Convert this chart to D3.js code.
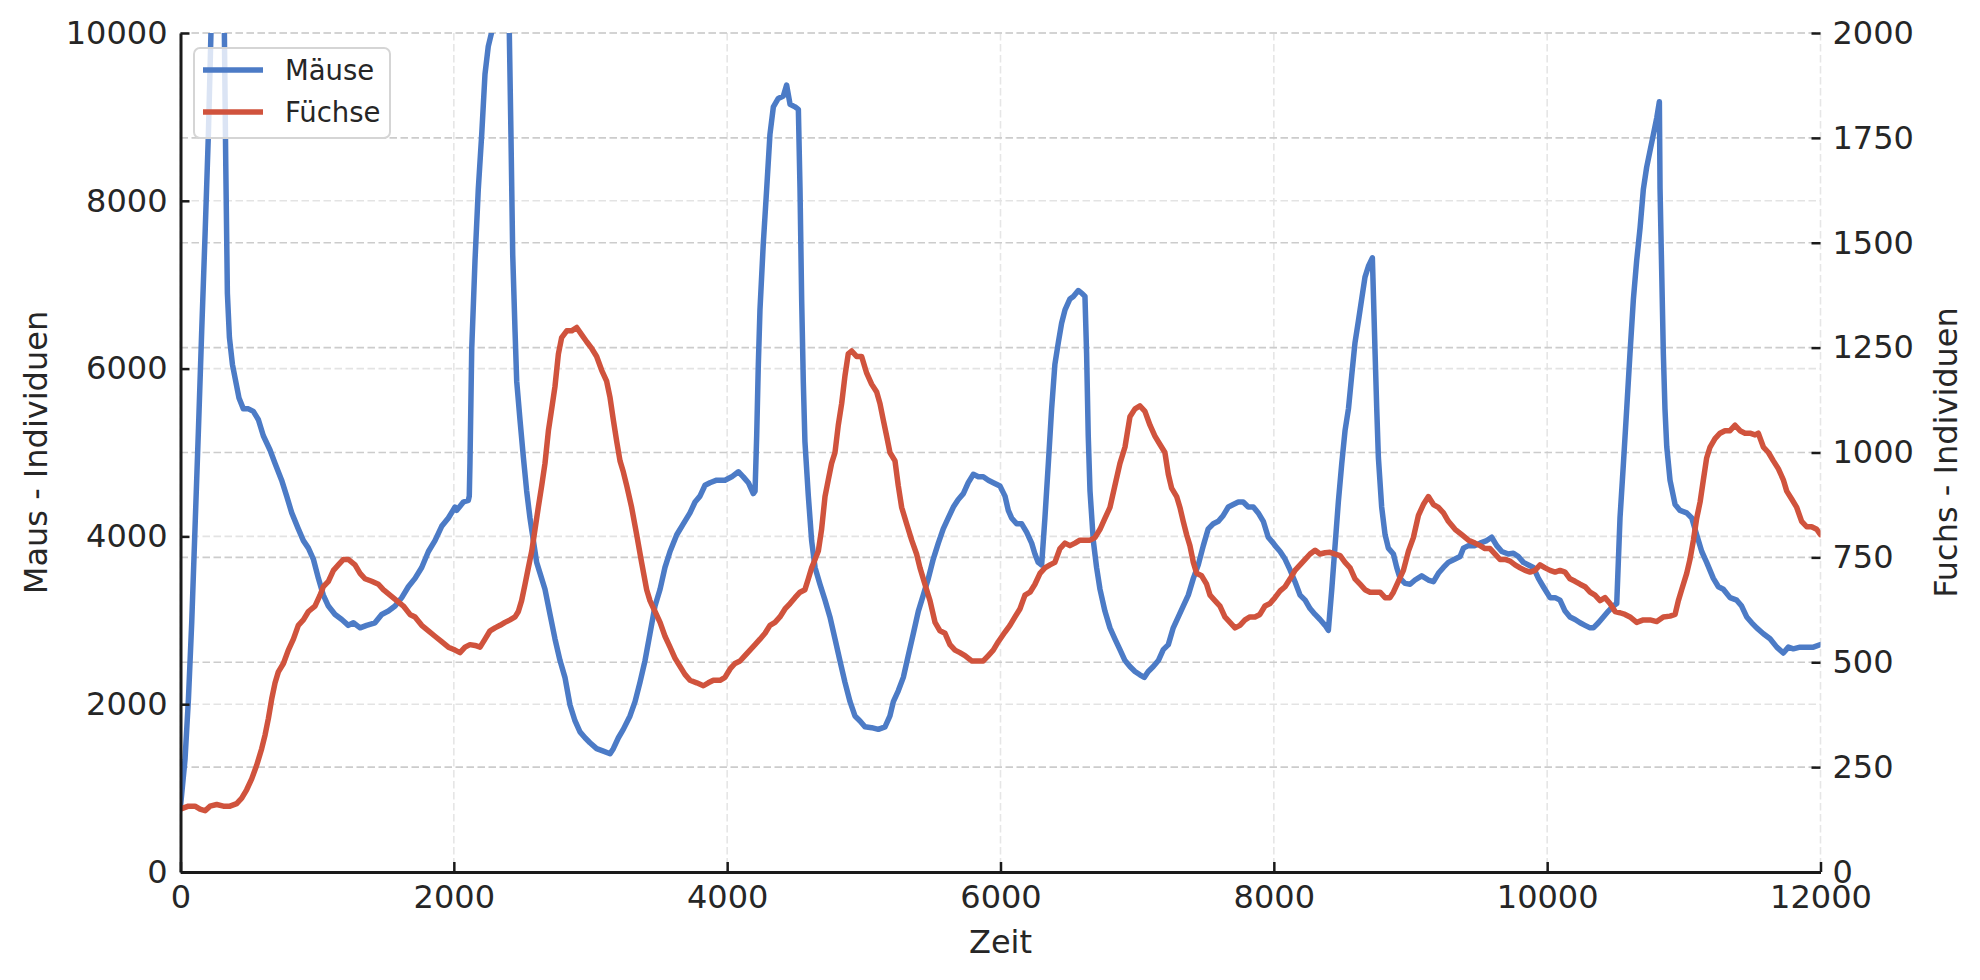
<!DOCTYPE html>
<html>
<head>
<meta charset="utf-8">
<script src="https://cdn.jsdelivr.net/npm/d3@7"></script>
<style>
body { margin: 0; background: #fff; }
text { font-family: "DejaVu Sans", sans-serif; fill: #262626; }
</style>
</head>
<body>
<svg id="chart" width="1980" height="980"></svg>
<script>
// ---- data ----
const mausZeit = [0,33,58,82,106,131,155,180,204,223,260,290,321,331,343,358,380,404,428,460,497,533,570,606,655,692,740,777,814,862,899,936,972,1009,1045,1082,1131,1180,1228,1265,1314,1362,1423,1472,1521,1570,1619,1667,1716,1765,1814,1862,1911,1960,2009,2021,2070,2106,2113,2118,2131,2155,2179,2204,2228,2252,2277,2330,2375,2406,2418,2431,2448,2460,2484,2509,2533,2557,2582,2606,2631,2667,2704,2740,2777,2813,2850,2887,2923,2960,2996,3045,3094,3143,3167,3204,3240,3289,3326,3362,3399,3435,3472,3509,3545,3582,3631,3679,3728,3765,3801,3838,3874,3923,3984,4033,4082,4118,4155,4191,4204,4216,4228,4240,4264,4289,4313,4338,4374,4411,4435,4460,4496,4521,4533,4545,4557,4569,4594,4618,4643,4679,4716,4752,4789,4825,4862,4899,4935,4972,5008,5057,5106,5155,5191,5216,5252,5289,5325,5362,5399,5435,5472,5508,5545,5581,5618,5655,5691,5728,5764,5801,5838,5874,5911,5947,5996,6033,6057,6081,6118,6155,6191,6228,6252,6276,6301,6325,6350,6374,6398,6423,6447,6472,6508,6533,6569,6594,6618,6630,6642,6655,6679,6703,6728,6764,6801,6837,6874,6911,6947,6984,7020,7052,7081,7118,7155,7191,7228,7264,7301,7337,7374,7411,7447,7484,7520,7557,7594,7630,7667,7703,7740,7776,7813,7850,7886,7923,7959,7996,8009,8046,8082,8119,8155,8192,8229,8265,8302,8338,8375,8399,8424,8448,8472,8497,8521,8546,8570,8594,8619,8643,8667,8692,8721,8741,8753,8765,8789,8814,8838,8875,8899,8924,8960,8997,9033,9082,9131,9168,9204,9241,9277,9326,9363,9387,9424,9472,9509,9558,9594,9631,9668,9716,9753,9789,9826,9863,9899,9936,9972,10021,10058,10094,10131,10167,10204,10241,10277,10314,10338,10375,10411,10448,10484,10509,10533,10558,10582,10606,10631,10655,10680,10704,10728,10753,10777,10802,10821,10826,10838,10850,10862,10875,10899,10936,10972,11021,11058,11094,11131,11167,11216,11253,11289,11338,11387,11423,11460,11497,11533,11582,11631,11680,11728,11765,11801,11850,11899,11948,12000];
const mausAnzahl = [780,1340,2060,2970,4090,5260,6440,7610,8790,10010,12300,12200,10010,8460,6900,6370,6050,5850,5650,5520,5520,5490,5390,5200,5030,4870,4670,4480,4280,4090,3950,3860,3730,3500,3300,3170,3070,3010,2940,2970,2910,2940,2970,3070,3110,3170,3270,3400,3500,3630,3820,3950,4120,4220,4350,4310,4410,4430,4480,4870,6240,7290,8140,8790,9510,9840,10010,11600,11800,10000,8790,7350,6440,5850,5390,4940,4540,4220,3950,3690,3560,3370,3070,2780,2520,2320,1990,1800,1670,1600,1540,1470,1440,1410,1470,1600,1700,1860,2030,2260,2520,2840,3170,3370,3630,3820,4020,4150,4280,4410,4480,4610,4640,4670,4670,4710,4770,4710,4640,4510,4540,5200,6050,6700,7480,8140,8790,9120,9220,9250,9380,9150,9120,9090,8140,6830,5850,5130,4480,3950,3630,3430,3240,3040,2780,2520,2260,2030,1860,1800,1730,1720,1700,1730,1860,2030,2160,2320,2580,2840,3110,3300,3500,3730,3920,4090,4220,4350,4440,4510,4640,4740,4710,4710,4670,4640,4600,4480,4310,4220,4150,4150,4050,3920,3790,3690,3660,4220,4870,5520,6050,6310,6540,6700,6830,6860,6930,6900,6860,6180,5200,4540,3950,3630,3370,3110,2910,2780,2650,2520,2450,2390,2350,2320,2390,2450,2520,2650,2710,2910,3040,3170,3300,3500,3660,3890,4090,4150,4180,4250,4350,4380,4410,4410,4350,4350,4280,4180,3990,3920,3890,3820,3730,3600,3460,3300,3240,3140,3070,3010,2940,2880,3370,3890,4410,4870,5260,5520,5920,6310,6570,6830,7090,7220,7320,6180,5520,4940,4350,4020,3860,3790,3630,3500,3440,3430,3480,3530,3480,3460,3560,3630,3690,3730,3760,3860,3890,3890,3920,3950,3990,3890,3820,3790,3800,3760,3690,3660,3630,3500,3400,3270,3270,3240,3110,3040,3010,2970,2940,2910,2910,2970,3040,3110,3170,3200,4220,4870,5520,6180,6830,7290,7680,8140,8400,8600,8790,8990,9180,8140,7160,6180,5520,5070,4670,4380,4310,4280,4220,4020,3820,3690,3500,3400,3370,3270,3240,3170,3040,2970,2910,2840,2780,2680,2610,2680,2660,2680,2680,2680,2710];

const fuchsZeit = [0,58,106,143,180,216,265,314,362,411,448,484,521,558,594,619,643,667,692,716,753,789,826,862,899,936,984,1021,1045,1082,1119,1155,1192,1228,1277,1314,1350,1399,1448,1484,1533,1582,1631,1679,1716,1765,1814,1862,1911,1960,2009,2045,2082,2118,2155,2192,2228,2265,2301,2338,2374,2411,2448,2472,2496,2521,2545,2570,2594,2618,2643,2667,2692,2716,2740,2765,2789,2826,2862,2899,2935,2972,3009,3045,3082,3118,3143,3167,3192,3216,3240,3265,3301,3338,3374,3411,3435,3472,3509,3545,3582,3618,3655,3691,3728,3777,3826,3862,3899,3948,3984,4021,4057,4094,4130,4167,4204,4240,4277,4313,4350,4386,4423,4460,4496,4533,4569,4594,4618,4643,4667,4691,4716,4740,4764,4789,4813,4838,4862,4886,4911,4947,4984,5021,5057,5094,5118,5142,5167,5191,5228,5252,5277,5313,5350,5386,5411,5447,5484,5521,5557,5594,5630,5667,5703,5740,5789,5838,5874,5911,5947,5984,6033,6069,6106,6142,6179,6216,6252,6289,6325,6362,6398,6435,6472,6508,6545,6581,6618,6655,6691,6728,6764,6801,6837,6874,6911,6947,6984,7020,7057,7094,7130,7167,7203,7228,7252,7289,7313,7337,7362,7386,7411,7435,7472,7508,7533,7569,7606,7642,7679,7716,7752,7789,7825,7862,7898,7935,7972,8008,8046,8082,8119,8155,8192,8229,8265,8302,8338,8375,8411,8448,8485,8521,8558,8594,8631,8667,8704,8741,8777,8814,8850,8875,8911,8948,8985,9021,9058,9094,9131,9168,9204,9241,9277,9326,9375,9424,9472,9509,9545,9582,9619,9655,9692,9729,9765,9802,9838,9875,9911,9948,9985,10021,10058,10094,10131,10167,10204,10241,10277,10314,10350,10387,10423,10460,10497,10533,10570,10606,10655,10704,10753,10802,10850,10899,10936,10960,10984,11021,11045,11070,11094,11119,11143,11167,11192,11228,11265,11301,11338,11375,11411,11448,11484,11521,11545,11582,11619,11655,11692,11728,11753,11789,11826,11862,11899,11935,11972,12000];
const fuchsAnzahl = [150,157,157,150,146,157,161,157,157,163,176,196,222,255,294,327,366,412,451,477,497,529,555,588,601,621,634,660,680,693,719,732,745,745,732,712,699,693,686,673,660,647,634,614,608,588,575,562,549,536,529,523,536,542,540,536,555,575,582,588,595,601,608,621,647,686,725,765,817,869,921,974,1052,1104,1157,1235,1274,1290,1290,1298,1281,1264,1248,1229,1196,1170,1131,1078,1026,980,954,921,869,804,738,673,647,621,595,562,536,510,490,471,457,451,444,451,457,457,464,484,497,503,516,529,542,555,569,588,595,608,627,640,654,667,673,699,725,745,765,817,895,935,974,1000,1065,1117,1183,1235,1242,1229,1229,1189,1163,1144,1117,1078,1039,1000,980,921,869,830,791,758,725,686,647,595,575,569,542,529,523,516,503,503,503,516,529,549,572,588,608,627,660,667,686,712,725,732,738,771,784,778,784,791,791,791,797,817,843,869,921,974,1013,1085,1104,1111,1098,1065,1039,1019,1000,948,915,895,869,836,804,778,738,712,706,686,660,647,634,608,595,582,588,601,608,608,614,634,640,654,670,680,699,719,732,745,758,767,758,761,762,758,754,738,725,699,686,673,667,667,667,654,654,667,693,719,765,797,850,876,895,876,869,856,836,817,804,791,784,778,771,771,758,745,745,741,732,725,719,715,719,732,725,719,715,719,715,699,693,686,680,667,660,647,654,640,621,618,614,608,595,601,601,597,608,610,614,647,673,712,745,791,843,882,935,987,1013,1033,1046,1052,1052,1065,1052,1046,1046,1042,1046,1013,1000,980,961,935,908,889,869,836,823,823,817,804];

const zeitTicks = [0,2000,4000,6000,8000,10000,12000];
const mausTicks = [0,2000,4000,6000,8000,10000];
const fuchsTicks = [0,250,500,750,1000,1250,1500,1750,2000];
const serien = ["Mäuse","Füchse"];
const farben = ["#4c7bc6","#d0533d"];

// ---- layout ----
const L = 180.5, R = 1820.5, T = 33, B = 872;
const svg = d3.select("#chart");
const x = d3.scaleLinear().domain([0,12000]).range([L,R]);
const yL = d3.scaleLinear().domain([0,10000]).range([B,T]);
const yR = d3.scaleLinear().domain([0,2000]).range([B,T]);

// grid
const grid = svg.append("g");
grid.selectAll("line.v").data(zeitTicks).join("line")
  .attr("x1", d=>x(d)).attr("x2", d=>x(d)).attr("y1", T).attr("y2", B)
  .attr("stroke", "#e6e6e6").attr("stroke-width", 1.6).attr("stroke-dasharray", "7.5,3.5");
grid.selectAll("line.hl").data(mausTicks).join("line")
  .attr("x1", L).attr("x2", R).attr("y1", d=>yL(d)).attr("y2", d=>yL(d))
  .attr("stroke", "#e3e3e3").attr("stroke-width", 1.6).attr("stroke-dasharray", "7.5,3.5");
grid.selectAll("line.hr").data(fuchsTicks).join("line")
  .attr("x1", L).attr("x2", R).attr("y1", d=>yR(d)).attr("y2", d=>yR(d))
  .attr("stroke", "#cccccc").attr("stroke-width", 1.6).attr("stroke-dasharray", "7.5,3.5");

// clip
svg.append("clipPath").attr("id","plotclip").append("rect")
  .attr("x", L).attr("y", T).attr("width", R-L).attr("height", B-T);

const mausDaten = mausZeit.map((t,i)=>[t, mausAnzahl[i]]);
const fuchsDaten = fuchsZeit.map((t,i)=>[t, fuchsAnzahl[i]]);
const lineL = d3.line().x(d=>x(d[0])).y(d=>yL(d[1]));
const lineR = d3.line().x(d=>x(d[0])).y(d=>yR(d[1]));
const plot = svg.append("g").attr("clip-path","url(#plotclip)");
plot.append("path").attr("d", lineL(mausDaten)).attr("fill","none")
  .attr("stroke", farben[0]).attr("stroke-width", 5.5).attr("stroke-linejoin","round").attr("stroke-linecap","round");
plot.append("path").attr("d", lineR(fuchsDaten)).attr("fill","none")
  .attr("stroke", farben[1]).attr("stroke-width", 5.5).attr("stroke-linejoin","round").attr("stroke-linecap","round");

// axes
function styleAxis(g, showDomain) {
  g.selectAll("text").style("font-size","32px").style("font-family","'DejaVu Sans'").attr("fill","#262626");
  g.selectAll(".tick line").attr("stroke","#1a1a1a").attr("stroke-width",2.5);
  g.select(".domain").attr("stroke", showDomain ? "#1a1a1a" : "none").attr("stroke-width",3);
}
const axB = svg.append("g").attr("transform",`translate(0,${B})`)
  .call(d3.axisBottom(x).tickValues(zeitTicks).tickFormat(d3.format("d")).tickSizeInner(-10).tickSizeOuter(0).tickPadding(13));
styleAxis(axB, true);
const axL = svg.append("g").attr("transform",`translate(${L},0)`)
  .call(d3.axisLeft(yL).tickValues(mausTicks).tickFormat(d3.format("d")).tickSizeInner(-9).tickSizeOuter(0).tickPadding(13));
styleAxis(axL, true);
const axR = svg.append("g").attr("transform",`translate(${R},0)`)
  .call(d3.axisRight(yR).tickValues(fuchsTicks).tickFormat(d3.format("d")).tickSizeInner(-9).tickSizeOuter(0).tickPadding(12));
styleAxis(axR, false);

// axis titles
svg.append("text").attr("transform",`translate(47,${(T+B)/2}) rotate(-90)`)
  .attr("text-anchor","middle").style("font-size","32px").text("Maus - Individuen");
svg.append("text").attr("transform",`translate(1957,${(T+B)/2}) rotate(-90)`)
  .attr("text-anchor","middle").style("font-size","32px").text("Fuchs - Individuen");
svg.append("text").attr("x",(L+R)/2).attr("y",953)
  .attr("text-anchor","middle").style("font-size","32px").text("Zeit");

// legend
const leg = svg.append("g");
leg.append("rect").attr("x",194).attr("y",48).attr("width",196).attr("height",90).attr("rx",6)
  .attr("fill","rgba(255,255,255,0.8)").attr("stroke","#d5d5d5").attr("stroke-width",2);
serien.forEach((s,i)=>{
  const yy = 70 + i*42;
  leg.append("line").attr("x1",203).attr("x2",263).attr("y1",yy).attr("y2",yy)
    .attr("stroke",farben[i]).attr("stroke-width",5.5);
  leg.append("text").attr("x",285).attr("y",yy).attr("dy","0.35em")
    .style("font-size","27.5px").text(s);
});
</script>
</body>
</html>
